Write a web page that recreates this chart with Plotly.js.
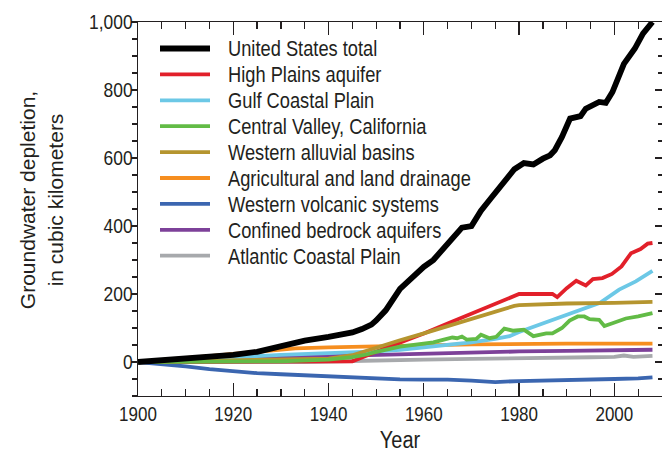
<!DOCTYPE html>
<html><head><meta charset="utf-8">
<script src="https://cdn.plot.ly/plotly-3.0.1.min.js"></script>
<style>html,body{margin:0;padding:0;background:#fff}#chart{width:662px;height:453px}</style>
</head><body><div id="chart"></div>
<script>
// ---- data ----
const seriesNames = ['United States total','High Plains aquifer','Gulf Coastal Plain','Central Valley, California','Western alluvial basins','Agricultural and land drainage','Western volcanic systems','Confined bedrock aquifers','Atlantic Coastal Plain'];

const usTotalYears  = [1900,1905,1910,1915,1920,1925,1927,1930,1933,1935,1940,1943,1945,1947,1949,1950,1952,1955,1958,1960,1962,1965,1967,1968,1970,1972,1974,1976,1977,1979,1981,1983,1985,1986.5,1987.5,1989,1990.7,1992.9,1994,1996.8,1998.2,1999.6,2002,2004.3,2006,2007.8,2008];
const usTotalValues = [0,5,10,15,21,30,37,48,57,63,74,81,87,97,110,122,152,215,255,280,300,345,378,395,400,445,480,515,538,567,585,581,598,608,623,662,716,723,745,765,762,794,877,922,966,995,1000];

const highPlainsYears  = [1900,1940,1945,1950,1955,1960,1965,1970,1975,1980,1987,1988,1990,1992,1994,1995.5,1997.5,1999.5,2001.5,2003.5,2005.5,2007,2008];
const highPlainsValues = [0,0,2,30,56,84,113,142,172,200,200,191,217,239,225,244,247,259,281,320,332,348,350];

const gulfYears  = [1900,1910,1920,1925,1930,1940,1945,1950,1955,1960,1965,1970,1975,1978,1980,1983,1987,1992,1997,2001,2004.5,2008];
const gulfValues = [0,5,12,17,21,26,28,31,36,43,50,58,68,76,88,103,123,149,174,213,237,268];

const centralValleyYears  = [1900,1925,1930,1940,1945,1948,1950,1955,1960,1962,1964,1966,1967,1968,1969,1971,1972,1973.8,1975.2,1976.9,1978.7,1981,1983,1985.7,1987,1989,1990.6,1992.3,1993.7,1994.8,1996.8,1997.9,1999.6,2002.4,2005,2008];
const centralValleyValues = [0,1,2,7,14,22,30,45,55,58,65,72,70,75,66,68,80,70,74,98,92,95,76,84,84,100,122,134,134,126,124,106,114,128,134,144];

const alluvialYears  = [1900,1920,1940,1945,1950,1952,1955,1960,1965,1970,1975,1979,1980,1985,1990,2000,2008];
const alluvialValues = [0,4,10,20,42,53,64,84,106,127,148,165,167,170,172,174,177];

const drainageYears  = [1900,1905,1910,1915,1920,1925,1930,1933,1940,1945,1950,1960,1970,1980,1990,2000,2008];
const drainageValues = [0,5,11,17,24,31,37,40,43,45,46,49,52,54,54,54,54];

const volcanicYears  = [1900,1905,1910,1915,1920,1925,1930,1935,1940,1945,1950,1955,1960,1965,1970,1975,1980,1985,1990,1995,2000,2005,2008];
const volcanicValues = [0,-6,-13,-21,-27,-33,-36,-39,-42,-46,-49,-51,-52,-52,-55,-59,-56,-55,-53,-51,-50,-48,-45];

const bedrockYears  = [1900,1910,1920,1930,1940,1950,1960,1970,1980,1990,2000,2008];
const bedrockValues = [0,5,9,13,17,21,25,28,31,33,34,36];

const atlanticYears  = [1900,1935,1945,1950,1960,1970,1980,1990,1995,2000,2002,2004,2006,2008];
const atlanticValues = [0,0,3,5,7,9,12,13,14,15,19,15,17,18];

// ---- styles ----
const FONT = "'Liberation Sans',Arial,sans-serif";
const INK = '#231f20';
const colors = ['#000000','#e2202a','#6cc8e6','#62bb46','#b5952f','#f68e1f','#3b66b0','#7d4199','#a7a9ac'];
const widths = [5.8,3.8,3.8,3.8,3.8,3.8,3.8,3.8,3.8];

const seriesX = [usTotalYears,highPlainsYears,gulfYears,centralValleyYears,alluvialYears,drainageYears,volcanicYears,bedrockYears,atlanticYears];
const seriesY = [usTotalValues,highPlainsValues,gulfValues,centralValleyValues,alluvialValues,drainageValues,volcanicValues,bedrockValues,atlanticValues];

// drawing order bottom -> top
const drawOrder = [6,8,7,5,2,1,4,3,0];
const traces = drawOrder.map(i => ({
  type:'scatter', mode:'lines', name:seriesNames[i],
  x:seriesX[i], y:seriesY[i],
  line:{color:colors[i], width:widths[i]}, hoverinfo:'skip'
}));
traces.push({type:'scatter', mode:'lines', x:[], y:[], yaxis:'y2', showlegend:false, hoverinfo:'skip'});

// custom legend (pixel layout converted to paper coords)
const L = 138, T = 22, PW = 524, PH = 374;
const shapes = [], annotations = [];
seriesNames.forEach((name, i) => {
  const py = 48.5 + i*25.9;
  const yp = 1 - (py - T)/PH;
  shapes.push({type:'line', xref:'paper', yref:'paper', x0:(160-L)/PW, x1:(210-L)/PW, y0:yp, y1:yp,
    line:{color:colors[i], width: i===0 ? 5.8 : 3.8}});
  annotations.push({xref:'paper', yref:'paper', x:(226-L)/PW, y:1 - (py + 1 - T)/PH, xanchor:'left', yanchor:'middle', align:'left',
    text:name, showarrow:false, font:{family:FONT, size:21.5, color:INK}});
});

const layout = {
  width:662, height:453, margin:{l:138, r:0, t:22, b:57},
  paper_bgcolor:'#fff', plot_bgcolor:'#fff', showlegend:false,
  font:{family:FONT, color:INK, size:20},
  xaxis:{range:[1900,2010], tickmode:'linear', tick0:1900, dtick:20,
    ticks:'inside', ticklen:13, tickwidth:1.2, tickcolor:INK,
    showline:true, linecolor:INK, linewidth:1.2, mirror:'ticks',
    showgrid:false, zeroline:false,
    minor:{tick0:1900, dtick:5, ticks:'inside', ticklen:7, tickwidth:1.2, tickcolor:INK, showgrid:false},
    tickfont:{size:20, color:INK},
    title:{text:'Year', font:{size:23.5, color:INK}, standoff:17}},
  yaxis:{range:[-100,1000], tickmode:'linear', tick0:0, dtick:200, separatethousands:true,
    ticks:'outside', ticklen:6, tickwidth:1.2, tickcolor:INK,
    showline:true, linecolor:INK, linewidth:1.2,
    showgrid:false, zeroline:false,
    minor:{tick0:0, dtick:50, ticks:'outside', ticklen:5, tickwidth:1.2, tickcolor:INK, showgrid:false},
    tickfont:{size:20.5, color:INK},
    title:{text:'Groundwater depletion,<br>in cubic kilometers', font:{size:21, color:INK}, standoff:6}},
  yaxis2:{overlaying:'y', side:'right', range:[-100,1000], tickmode:'linear', tick0:0, dtick:200,
    showticklabels:false, ticks:'inside', ticklen:7, tickwidth:1.2, tickcolor:INK,
    showline:false, showgrid:false, zeroline:false,
    minor:{tick0:0, dtick:50, ticks:'inside', ticklen:4, tickwidth:1.2, tickcolor:INK, showgrid:false}},
  shapes:shapes, annotations:annotations
};

// squeeze single-line text horizontally to imitate the condensed face of the original
function condense(el, f){
  if (el.getAttribute('data-cond')) return;
  const len = el.getComputedTextLength();
  if (len > 0) {
    el.setAttribute('textLength', (len*f).toFixed(2));
    el.setAttribute('lengthAdjust', 'spacingAndGlyphs');
    el.setAttribute('data-cond', '1');
  }
}
function shift(el, dx, dy){
  if (el.getAttribute('data-shift')) return;
  const tr = el.getAttribute('transform') || '';
  el.setAttribute('transform', 'translate(' + dx.toFixed(2) + ',' + dy.toFixed(2) + ') ' + tr);
  el.setAttribute('data-shift', '1');
}
function styleText(gd){
  const box = gd.getBoundingClientRect();
  gd.querySelectorAll('svg text').forEach(t => {
    if (t.classList.contains('ytitle')) return;
    if (t.querySelectorAll('tspan.line').length) return;
    condense(t, 0.85);
  });
  // y tick labels end right at the outer tick ends, as in the original
  gd.querySelectorAll('g.ytick text').forEach(t => {
    const r = t.getBoundingClientRect();
    if (r.width > 0) shift(t, (L - 5.3) - (r.right - box.left), 0);
  });
  // axis title sits a little above the plot's middle in the original
  gd.querySelectorAll('text.ytitle').forEach(t => shift(t, 0, -9));
}
Plotly.newPlot('chart', traces, layout, {staticPlot:true, displayModeBar:false}).then(gd => {
  styleText(gd);
  gd.on('plotly_afterplot', () => styleText(gd));
  setTimeout(() => styleText(gd), 150);
});
</script>
</body></html>
